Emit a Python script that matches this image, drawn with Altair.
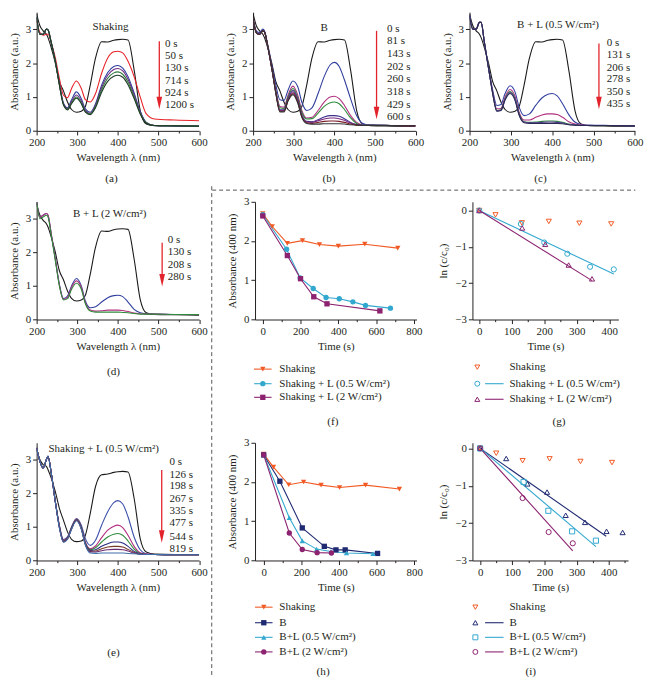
import altair as alt
import pandas as pd

S = 0.985
FONT = "Liberation Serif"
INK = "#231f20"
RED = "#e3232b"
ORANGE = "#f15a24"
CYAN = "#33a8cf"
PURPLE = "#8c2270"
NAVY = "#1f2a72"
DASH = "#555555"
FS = 11.3 * S

# ---------------- spectra data (wavelength grid + absorbance) ----------------
WL = [200, 208, 216, 224, 228, 236, 246, 256, 266, 276, 286, 298, 310, 320, 332, 345,
      360, 375, 390, 400, 412, 425, 440, 455, 470, 490, 540, 600]

BLACK_0S = [3.45, 3.1, 2.95, 2.85, 2.75, 2.45, 2.0, 1.45, 1.18, 0.85, 0.63, 0.55, 0.58, 0.72,
            1.35, 2.15, 2.63, 2.62, 2.67, 2.69, 2.7, 2.68, 1.8, 0.6, 0.2, 0.15, 0.14, 0.13]

A_50 = [3.25, 2.9, 2.82, 2.85, 2.85, 2.6, 2.15, 1.55, 1.05, 0.98, 1.25, 1.47, 1.25, 0.92,
        0.85, 1.1, 1.7, 2.15, 2.33, 2.35, 2.3, 2.05, 1.6, 1.0, 0.5, 0.35, 0.32, 0.3]
A_130 = [3.35, 2.85, 2.85, 3.0, 2.98, 2.6, 2.05, 1.4, 0.82, 0.68, 0.92, 1.15, 0.95, 0.65,
         0.55, 0.8, 1.35, 1.72, 1.9, 1.93, 1.85, 1.6, 1.12, 0.58, 0.25, 0.16, 0.15, 0.14]
A_714 = [3.35, 2.85, 2.85, 3.0, 2.98, 2.6, 2.05, 1.38, 0.8, 0.66, 0.87, 1.06, 0.88, 0.6,
         0.52, 0.76, 1.28, 1.64, 1.81, 1.84, 1.77, 1.52, 1.06, 0.55, 0.24, 0.16, 0.15, 0.14]
A_924 = [3.35, 2.85, 2.85, 3.0, 2.98, 2.6, 2.05, 1.36, 0.78, 0.64, 0.83, 1.0, 0.83, 0.57,
         0.5, 0.72, 1.21, 1.55, 1.71, 1.74, 1.67, 1.44, 1.0, 0.52, 0.23, 0.16, 0.15, 0.14]
A_1200 = [3.35, 2.85, 2.85, 3.0, 2.98, 2.6, 2.05, 1.35, 0.77, 0.62, 0.8, 0.96, 0.8, 0.55,
          0.48, 0.68, 1.14, 1.46, 1.61, 1.64, 1.58, 1.36, 0.95, 0.5, 0.22, 0.16, 0.15, 0.14]

B_81 = [3.3, 2.95, 2.9, 3.0, 2.95, 2.55, 1.95, 1.35, 0.92, 0.9, 1.2, 1.47, 1.3, 0.85,
        0.6, 0.68, 1.1, 1.6, 1.95, 2.02, 1.9, 1.5, 0.95, 0.45, 0.22, 0.17, 0.16, 0.15]
B_143 = [3.3, 2.9, 2.85, 2.95, 2.92, 2.5, 1.85, 1.2, 0.72, 0.7, 1.05, 1.32, 1.05, 0.6,
         0.38, 0.4, 0.6, 0.85, 1.0, 1.02, 0.95, 0.75, 0.45, 0.25, 0.18, 0.17, 0.16, 0.15]
B_202 = [3.3, 2.9, 2.85, 2.95, 2.92, 2.5, 1.85, 1.18, 0.68, 0.66, 1.0, 1.25, 0.98, 0.55,
         0.35, 0.36, 0.52, 0.72, 0.83, 0.85, 0.8, 0.63, 0.38, 0.22, 0.17, 0.17, 0.16, 0.15]
B_260 = [3.3, 2.9, 2.85, 2.95, 2.92, 2.5, 1.85, 1.15, 0.62, 0.62, 0.95, 1.2, 0.92, 0.48,
         0.28, 0.27, 0.33, 0.41, 0.45, 0.45, 0.43, 0.36, 0.25, 0.19, 0.17, 0.17, 0.16, 0.15]
B_318 = [3.3, 2.9, 2.85, 2.95, 2.92, 2.5, 1.85, 1.13, 0.6, 0.6, 0.92, 1.15, 0.88, 0.45,
         0.26, 0.25, 0.3, 0.35, 0.38, 0.38, 0.36, 0.31, 0.23, 0.18, 0.16, 0.16, 0.16, 0.15]
B_429 = [3.3, 2.9, 2.85, 2.95, 2.92, 2.5, 1.85, 1.12, 0.58, 0.58, 0.9, 1.1, 0.85, 0.42,
         0.24, 0.22, 0.25, 0.28, 0.29, 0.29, 0.28, 0.25, 0.2, 0.17, 0.16, 0.16, 0.16, 0.15]
B_600 = [3.3, 2.9, 2.85, 2.95, 2.92, 2.5, 1.85, 1.1, 0.56, 0.56, 0.88, 1.07, 0.82, 0.4,
         0.22, 0.2, 0.2, 0.21, 0.21, 0.21, 0.21, 0.2, 0.18, 0.17, 0.16, 0.16, 0.16, 0.15]

C_131 = [3.4, 3.0, 3.0, 3.2, 3.2, 2.6, 1.85, 1.2, 0.75, 0.78, 1.1, 1.33, 1.15, 0.7,
         0.45, 0.5, 0.75, 0.97, 1.08, 1.1, 1.03, 0.8, 0.48, 0.26, 0.19, 0.17, 0.16, 0.15]
C_206 = [3.4, 3.0, 3.0, 3.2, 3.2, 2.6, 1.85, 1.15, 0.65, 0.66, 1.0, 1.22, 1.02, 0.55,
         0.32, 0.32, 0.4, 0.47, 0.5, 0.5, 0.48, 0.4, 0.27, 0.2, 0.17, 0.16, 0.16, 0.15]
C_278 = [3.4, 3.0, 3.0, 3.2, 3.2, 2.6, 1.85, 1.12, 0.6, 0.62, 0.95, 1.16, 0.95, 0.5,
         0.27, 0.25, 0.26, 0.28, 0.29, 0.29, 0.28, 0.25, 0.2, 0.17, 0.16, 0.16, 0.16, 0.15]
C_350 = [3.4, 3.0, 3.0, 3.2, 3.2, 2.6, 1.85, 1.11, 0.59, 0.61, 0.93, 1.13, 0.93, 0.48,
         0.26, 0.24, 0.24, 0.25, 0.26, 0.26, 0.25, 0.23, 0.19, 0.17, 0.16, 0.16, 0.16, 0.15]
C_435 = [3.4, 3.0, 3.0, 3.2, 3.2, 2.6, 1.85, 1.1, 0.58, 0.6, 0.91, 1.1, 0.9, 0.46,
         0.24, 0.22, 0.22, 0.22, 0.22, 0.22, 0.22, 0.21, 0.18, 0.17, 0.16, 0.16, 0.16, 0.15]

D_130 = [3.5, 3.05, 3.1, 3.15, 3.1, 2.55, 1.8, 1.05, 0.62, 0.7, 1.0, 1.22, 1.0, 0.55,
         0.35, 0.38, 0.52, 0.65, 0.71, 0.72, 0.68, 0.52, 0.3, 0.2, 0.17, 0.16, 0.15, 0.15]
D_208 = [3.5, 3.05, 3.1, 3.15, 3.1, 2.55, 1.8, 1.02, 0.6, 0.66, 0.95, 1.15, 0.95, 0.5,
         0.28, 0.25, 0.26, 0.28, 0.28, 0.28, 0.27, 0.24, 0.19, 0.17, 0.16, 0.16, 0.15, 0.15]
D_280 = [3.5, 3.0, 3.05, 3.1, 3.05, 2.5, 1.75, 1.0, 0.58, 0.62, 0.9, 1.08, 0.9, 0.47,
         0.25, 0.22, 0.22, 0.22, 0.22, 0.22, 0.21, 0.2, 0.18, 0.16, 0.16, 0.16, 0.15, 0.15]

E_0 = [3.3, 3.0, 2.85, 2.8, 2.7, 2.45, 2.05, 1.55, 1.2, 0.85, 0.63, 0.56, 0.58, 0.75,
       1.4, 2.2, 2.55, 2.57, 2.62, 2.64, 2.65, 2.63, 1.85, 0.65, 0.25, 0.19, 0.18, 0.18]
E_126 = [3.35, 2.95, 2.75, 3.0, 3.1, 2.6, 1.75, 1.05, 0.62, 0.7, 1.0, 1.25, 1.05, 0.65,
         0.45, 0.6, 1.05, 1.45, 1.72, 1.78, 1.68, 1.3, 0.7, 0.32, 0.2, 0.18, 0.17, 0.17]
E_198 = [3.35, 2.95, 2.75, 3.0, 3.1, 2.6, 1.75, 1.03, 0.6, 0.68, 0.98, 1.23, 1.0, 0.55,
         0.35, 0.43, 0.68, 0.9, 1.02, 1.05, 0.98, 0.75, 0.42, 0.23, 0.19, 0.18, 0.17, 0.17]
E_267 = [3.35, 2.95, 2.75, 3.0, 3.1, 2.6, 1.75, 1.02, 0.58, 0.67, 0.97, 1.22, 0.98, 0.52,
         0.32, 0.38, 0.55, 0.7, 0.78, 0.8, 0.75, 0.58, 0.34, 0.21, 0.18, 0.18, 0.17, 0.17]
E_335 = [3.35, 2.95, 2.75, 3.0, 3.1, 2.6, 1.75, 1.0, 0.57, 0.66, 0.96, 1.21, 0.96, 0.5,
         0.3, 0.32, 0.42, 0.5, 0.55, 0.55, 0.52, 0.42, 0.27, 0.2, 0.18, 0.18, 0.17, 0.17]
E_477 = [3.35, 2.95, 2.75, 3.0, 3.1, 2.6, 1.75, 0.99, 0.56, 0.65, 0.95, 1.2, 0.95, 0.48,
         0.27, 0.28, 0.35, 0.4, 0.42, 0.42, 0.4, 0.33, 0.24, 0.19, 0.18, 0.18, 0.17, 0.17]
E_544 = [3.35, 2.95, 2.75, 3.0, 3.1, 2.6, 1.75, 0.98, 0.55, 0.64, 0.94, 1.19, 0.94, 0.47,
         0.25, 0.25, 0.29, 0.32, 0.33, 0.33, 0.32, 0.28, 0.22, 0.19, 0.18, 0.18, 0.17, 0.17]
E_819 = [3.35, 2.95, 2.75, 3.0, 3.1, 2.6, 1.75, 0.97, 0.54, 0.63, 0.93, 1.18, 0.93, 0.46,
         0.22, 0.21, 0.22, 0.22, 0.22, 0.22, 0.22, 0.21, 0.2, 0.19, 0.18, 0.18, 0.17, 0.17]

A_LABELS = ["0 s", "50 s", "130 s", "714 s", "924 s", "1200 s"]
B_LABELS = ["0 s", "81 s", "143 s", "202 s", "260 s", "318 s", "429 s", "600 s"]
C_LABELS = ["0 s", "131 s", "206 s", "278 s", "350 s", "435 s"]
D_LABELS = ["0 s", "130 s", "208 s", "280 s"]
E_LABELS = ["0 s", "126 s", "198 s", "267 s", "335 s", "477 s", "544 s", "819 s"]

# ---------------- kinetics data ----------------
F_T_SHAKE = [0, 50, 130, 210, 300, 400, 540, 715]
F_A_SHAKE = [2.70, 2.37, 1.94, 2.01, 1.91, 1.87, 1.92, 1.82]
F_T_L05 = [0, 126, 198, 267, 335, 405, 477, 544, 676]
F_A_L05 = [2.67, 1.79, 1.06, 0.79, 0.56, 0.53, 0.45, 0.36, 0.29]
F_T_L2 = [0, 130, 200, 270, 340, 620]
F_A_L2 = [2.64, 1.63, 1.04, 0.58, 0.40, 0.22]

G_T_SHAKE = [0, 50, 131, 214, 308, 406]
G_Y_SHAKE = [0.0, -0.12, -0.34, -0.30, -0.35, -0.37]
G_T_L05 = [0, 128, 200, 271, 341, 414]
G_Y_L05 = [0.0, -0.37, -0.88, -1.19, -1.55, -1.62]
G_T_L2 = [0, 132, 203, 275, 347]
G_Y_L2 = [0.0, -0.48, -0.93, -1.50, -1.88]
G_FIT_T_L05 = [0, 414]
G_FIT_Y_L05 = [0.0, -1.75]
G_FIT_T_L2 = [0, 347]
G_FIT_Y_L2 = [0.0, -1.93]

H_T_SHAKE = [0, 52, 133, 212, 305, 403, 541, 721]
H_A_SHAKE = [2.71, 2.38, 1.93, 2.00, 1.92, 1.86, 1.92, 1.82]
H_T_B = [0, 86, 205, 322, 384, 433, 605]
H_A_B = [2.69, 2.02, 0.83, 0.36, 0.27, 0.27, 0.18]
H_T_L05 = [0, 136, 205, 281, 357, 440, 581]
H_A_L05 = [2.69, 1.09, 0.50, 0.29, 0.23, 0.19, 0.17]
H_T_L2 = [0, 136, 205, 284, 360]
H_A_L2 = [2.69, 0.70, 0.28, 0.20, 0.19]

I_T_SHAKE = [0, 50, 132, 216, 312, 410]
I_Y_SHAKE = [0.0, -0.13, -0.33, -0.28, -0.35, -0.38]
I_T_B = [0, 81, 147, 208, 266, 326, 393, 443]
I_Y_B = [0.0, -0.27, -0.95, -1.17, -1.79, -1.98, -2.22, -2.25]
I_T_L05 = [0, 135, 212, 286, 360]
I_Y_L05 = [0.0, -0.90, -1.67, -2.22, -2.47]
I_T_L2 = [0, 132, 213, 288]
I_Y_L2 = [0.0, -1.33, -2.24, -2.54]
I_FIT_T_B = [0, 392]
I_FIT_Y_B = [0.0, -2.35]
I_FIT_T_L05 = [0, 360]
I_FIT_Y_L05 = [0.0, -2.63]
I_FIT_T_L2 = [0, 288]
I_FIT_Y_L2 = [0.0, -2.74]

ONE = pd.DataFrame({"k": [0]})
HEAD = "M-0.45,-1L0.45,-1L0,1Z"


def P(v):
    return round(v * S, 2)


def axis(values, major, title):
    test = "abs(datum.value %% %s) > 1e-6" % major
    return alt.Axis(values=values, title=title, format="d",
                    labelExpr="abs(datum.value %% %s) > 1e-6 ? '' : datum.label" % major,
                    tickSize={"condition": {"test": test, "value": 2.2 * S}, "value": 4.2 * S})


def steps(lo, hi, step):
    out, v = [], lo
    while v <= hi + 1e-9:
        out.append(round(v, 3))
        v += step
    return out


# ---------------- decoration helpers (pixel positions relative to plot) ----------------
def txt(s, x, y, size=11.3, align="center"):
    return alt.Chart(ONE).mark_text(text=s, fontSize=size * S, align=align, baseline="middle",
                                    color=INK, font=FONT).encode(x=alt.value(P(x)), y=alt.value(P(y)))


def hline(x1, x2, y, color, width=1.1, dash=None):
    kw = dict(color=color, strokeWidth=width)
    if dash:
        kw["strokeDash"] = dash
    return alt.Chart(ONE).mark_rule(**kw).encode(x=alt.value(P(x1)), x2=alt.value(P(x2)), y=alt.value(P(y)))


def vline(x, y1, y2, color, width=1.0, dash=None):
    kw = dict(color=color, strokeWidth=width)
    if dash:
        kw["strokeDash"] = dash
    return alt.Chart(ONE).mark_rule(**kw).encode(x=alt.value(P(x)), y=alt.value(P(y1)), y2=alt.value(P(y2)))


def sym(x, y, shape, color, filled, size=30):
    return alt.Chart(ONE).mark_point(shape=shape, filled=filled, color=color, size=size * S * S,
                                     opacity=1, strokeWidth=1).encode(x=alt.value(P(x)), y=alt.value(P(y)))


def legend_through(entries, xl1, xl2, xm, xt, ys):
    out = []
    for (lab, col, shp), y in zip(entries, ys):
        out += [hline(xl1, xl2, y, col), sym(xm, y, shp, col, True), txt(lab, xt, y, align="left")]
    return out


def legend_side(entries, xm, xl1, xl2, xt, ys):
    out = []
    for (lab, col, shp, has_line), y in zip(entries, ys):
        out.append(sym(xm, y, shp, col, False, 26))
        if has_line:
            out.append(hline(xl1, xl2, y, col))
        out.append(txt(lab, xt, y, align="left"))
    return out


# ---------------- panel builders ----------------
def spectra_panel(names, curves, colors, W, H, title, tx, ty, labels, lx, ly, arrow, extra):
    rows = []
    for n, vals in zip(names, curves):
        for w, v in zip(WL, vals):
            rows.append({"wl": w, "A": v, "s": n})
    df = pd.DataFrame(rows)
    xs = alt.Scale(domain=[200, 600], nice=False, zero=False)
    ys = alt.Scale(domain=[0, 3.5], nice=False, zero=False)
    xax = axis(steps(200, 600, 50), 100, "Wavelength λ (nm)")
    yax = axis(steps(0, 3.5, 0.5), 1, "Absorbance (a.u.)")

    def X(f):
        return alt.X(f, type="quantitative", scale=xs, axis=xax)

    def Y(f):
        return alt.Y(f, type="quantitative", scale=ys, axis=yax)

    lines = alt.Chart(df).mark_line(interpolate="monotone", strokeWidth=1.1, clip=True).encode(
        x=X("wl"), y=Y("A"),
        color=alt.Color("s:N", scale=alt.Scale(domain=names, range=colors), legend=None),
    )
    tdf = pd.DataFrame({"x": [tx], "y": [ty], "t": [title]})
    ttl = alt.Chart(tdf).mark_text(fontSize=FS, color=INK, font=FONT).encode(
        x=X("x"), y=Y("y"), text="t:N")
    ldf = pd.DataFrame({"x": [lx] * len(labels), "y": ly, "t": labels})
    labs = alt.Chart(ldf).mark_text(fontSize=FS, color=INK, align="left", font=FONT).encode(
        x=X("x"), y=Y("y"), text="t:N")
    adf = pd.DataFrame({"x": [arrow[0]], "y1": [arrow[1]], "y2": [arrow[2]]})
    shaft = alt.Chart(adf).mark_rule(color=RED, strokeWidth=1.3).encode(
        x=X("x"), y=Y("y1"), y2="y2:Q")
    head = alt.Chart(adf).mark_point(shape=HEAD, filled=True, color=RED, opacity=1, size=165 * S * S).encode(
        x=X("x"), y=Y("y2"))
    return alt.layer(lines, ttl, labs, shaft, head, *extra).properties(width=P(W), height=P(H))


def kinetic_panel(series, fits, filled, connect, xdom, ydom, W, H, xvals, xmajor, yvals, ytitle, extra):
    rows = []
    for name, ts, vs, c, sh in series:
        for t, v in zip(ts, vs):
            rows.append({"t": t, "v": v, "s": name})
    df = pd.DataFrame(rows)
    names = [s[0] for s in series]
    cscale = alt.Scale(domain=names, range=[s[3] for s in series])
    shscale = alt.Scale(domain=names, range=[s[4] for s in series])
    xs = alt.Scale(domain=xdom, nice=False, zero=False)
    ys = alt.Scale(domain=ydom, nice=False, zero=False)
    X = alt.X("t:Q", scale=xs, axis=axis(xvals, xmajor, "Time (s)"))
    Y = alt.Y("v:Q", scale=ys, axis=axis(yvals, 1, ytitle))
    C = alt.Color("s:N", scale=cscale, legend=None)
    layers = []
    if connect:
        layers.append(alt.Chart(df).mark_line(strokeWidth=1.1).encode(x=X, y=Y, color=C))
    if fits:
        frows = []
        for name, ts, vs in fits:
            for t, v in zip(ts, vs):
                frows.append({"t": t, "v": v, "s": name})
        fdf = pd.DataFrame(frows)
        layers.append(alt.Chart(fdf).mark_line(strokeWidth=1.1).encode(x=X, y=Y, color=C))
    pts = alt.Chart(df).mark_point(filled=filled, size=(30 if filled else 28) * S * S, opacity=1,
                                   strokeWidth=1).encode(
        x=X, y=Y, color=C, shape=alt.Shape("s:N", scale=shscale, legend=None))
    layers.append(pts)
    return alt.layer(*layers, *extra).properties(width=P(W), height=P(H))


# ---------------- row 1 ----------------
pa = spectra_panel(A_LABELS, [BLACK_0S, A_50, A_130, A_714, A_924, A_1200],
                   ["#1a1a1a", "#e8232a", "#2e3d9c", "#6b2c83", "#2f7a3b", "#203a26"],
                   167, 122, "Shaking", 382, 3.07, A_LABELS, 516,
                   [2.55, 2.21, 1.84, 1.46, 1.12, 0.75], (502, 2.64, 0.82),
                   [txt("(a)", 77, 172, 11.5)])
pb = spectra_panel(B_LABELS, [BLACK_0S, B_81, B_143, B_202, B_260, B_318, B_429, B_600],
                   ["#1a1a1a", "#2e3d9c", "#b0307f", "#2f8a3b", "#3a2f8a", "#7a2a80", "#7a1f2a", "#333333"],
                   167, 122, "B", 375, 3.04, B_LABELS, 530,
                   [3.01, 2.64, 2.27, 1.89, 1.52, 1.15, 0.75, 0.40], (504, 2.95, 0.53),
                   [txt("(b)", 78, 172, 11.5)])
pc = spectra_panel(C_LABELS, [BLACK_0S, C_131, C_206, C_278, C_350, C_435],
                   ["#1a1a1a", "#3140a0", "#b0307f", "#2f8a3b", "#5a3d9a", "#2a2a55"],
                   170, 122, "B + L (0.5 W/cm²)", 414, 3.13, C_LABELS, 532,
                   [2.58, 2.24, 1.86, 1.52, 1.15, 0.80], (513, 2.58, 0.82),
                   [txt("(c)", 73, 172, 11.5)])

# ---------------- row 2 ----------------
pd_ = spectra_panel(D_LABELS, [BLACK_0S, D_130, D_208, D_280],
                    ["#1a1a1a", "#3140a0", "#b0307f", "#2f8a3b"],
                    167, 121, "B + L (2 W/cm²)", 380, 3.15, D_LABELS, 523,
                    [2.37, 2.0, 1.62, 1.27], (509, 2.28, 1.17),
                    [txt("(d)", 79, 175, 11.5), vline(180, -16, 239, DASH, 1.0, [4, 3])])

pf = kinetic_panel(
    [("Shaking", F_T_SHAKE, F_A_SHAKE, ORANGE, "triangle-down"),
     ("Shaking + L (0.5 W/cm²)", F_T_L05, F_A_L05, CYAN, "circle"),
     ("Shaking + L (2 W/cm²)", F_T_L2, F_A_L2, PURPLE, "square")],
    None, True, True, [-41, 814], [0, 3], 166, 121, steps(0, 800, 100), 200, steps(0, 3, 0.5),
    "Absorbance (400 nm)",
    [hline(-44, 391, -12, DASH, 1.0, [4, 3]), txt("(f)", 80, 226, 11.5)] +
    legend_through([("Shaking", ORANGE, "triangle-down"),
                    ("Shaking + L (0.5 W/cm²)", CYAN, "circle"),
                    ("Shaking + L (2 W/cm²)", PURPLE, "square")],
                   -1, 17, 8, 25, [172, 187, 201]))

pg = kinetic_panel(
    [("Shaking", G_T_SHAKE, G_Y_SHAKE, ORANGE, "triangle-down"),
     ("Shaking + L (0.5 W/cm²)", G_T_L05, G_Y_L05, CYAN, "circle"),
     ("Shaking + L (2 W/cm²)", G_T_L2, G_Y_L2, PURPLE, "triangle-up")],
    [("Shaking + L (0.5 W/cm²)", G_FIT_T_L05, G_FIT_Y_L05),
     ("Shaking + L (2 W/cm²)", G_FIT_T_L2, G_FIT_Y_L2)],
    False, False, [-21, 428], [-3, 0.24], 150, 121, steps(0, 400, 50), 100, steps(-3, 0, 0.5),
    "ln (c/c₀)",
    [txt("(g)", 89, 226, 11.5)] +
    legend_side([("Shaking", ORANGE, "triangle-down", False),
                 ("Shaking + L (0.5 W/cm²)", CYAN, "circle", True),
                 ("Shaking + L (2 W/cm²)", PURPLE, "triangle-up", True)],
                5, 13, 32, 38, [170, 187, 203]))

# ---------------- row 3 ----------------
pe = spectra_panel(E_LABELS, [E_0, E_126, E_198, E_267, E_335, E_477, E_544, E_819],
                   ["#1a1a1a", "#3b4fa8", "#b0307f", "#2f8a3b", "#2a2a80", "#7a3a2a", "#6a2a70", "#3f6fa8"],
                   167, 121, "Shaking + L (0.5 W/cm²)", 365, 3.3, E_LABELS, 527,
                   [2.92, 2.55, 2.2, 1.82, 1.47, 1.1, 0.69, 0.35], (508, 2.69, 0.71),
                   [txt("(e)", 79, 216, 11.5), vline(180, -7, 241, DASH, 1.0, [4, 3])])

ph = kinetic_panel(
    [("Shaking", H_T_SHAKE, H_A_SHAKE, ORANGE, "triangle-down"),
     ("B", H_T_B, H_A_B, NAVY, "square"),
     ("B+L (0.5 W/cm²)", H_T_L05, H_A_L05, CYAN, "triangle-up"),
     ("B+L (2 W/cm²)", H_T_L2, H_A_L2, PURPLE, "circle")],
    None, True, True, [-46, 812], [0, 3], 166, 121, steps(0, 800, 100), 200, steps(0, 3, 0.5),
    "Absorbance (400 nm)",
    [txt("(h)", 70, 236, 11.5)] +
    legend_through([("Shaking", ORANGE, "triangle-down"), ("B", NAVY, "square"),
                    ("B+L (0.5 W/cm²)", CYAN, "triangle-up"), ("B+L (2 W/cm²)", PURPLE, "circle")],
                   0, 18, 9, 25, [169, 185, 200, 215]))

pi = kinetic_panel(
    [("Shaking", I_T_SHAKE, I_Y_SHAKE, ORANGE, "triangle-down"),
     ("B", I_T_B, I_Y_B, NAVY, "triangle-up"),
     ("B+L (0.5 W/cm²)", I_T_L05, I_Y_L05, CYAN, "square"),
     ("B+L (2 W/cm²)", I_T_L2, I_Y_L2, PURPLE, "circle")],
    [("B", I_FIT_T_B, I_FIT_Y_B), ("B+L (0.5 W/cm²)", I_FIT_T_L05, I_FIT_Y_L05),
     ("B+L (2 W/cm²)", I_FIT_T_L2, I_FIT_Y_L2)],
    False, False, [-24, 460], [-3, 0.15], 160, 121, steps(0, 450, 50), 100, steps(-3, 0, 0.5),
    "ln (c/c₀)",
    [txt("(i)", 60, 236, 11.5)] +
    legend_side([("Shaking", ORANGE, "triangle-down", False), ("B", NAVY, "triangle-up", True),
                 ("B+L (0.5 W/cm²)", CYAN, "square", True), ("B+L (2 W/cm²)", PURPLE, "circle", True)],
                3, 13, 32, 38, [169, 185, 200, 215]))

IND = dict(color="independent", shape="independent")
row1 = alt.hconcat(pa, pb, pc, spacing=P(55), bounds="flush").resolve_scale(**IND)
row2 = alt.hconcat(pd_, pf, pg, spacing=P(57), bounds="flush").resolve_scale(**IND)
row3 = alt.hconcat(pe, ph, pi, spacing=P(57), bounds="flush").resolve_scale(**IND)

chart = alt.vconcat(row1, row2, row3, spacing=0, padding=0).resolve_scale(**IND).configure_view(
    stroke=None).configure_axis(
    labelFont=FONT, titleFont=FONT, labelFontSize=11.2 * S, titleFontSize=11.2 * S,
    titleFontWeight=400, labelColor=INK, titleColor=INK, domainColor=INK, tickColor=INK,
    grid=False, labelPadding=2, titlePadding=4, labelFlush=False, labelOverlap=False,
    domainWidth=1, tickWidth=1,
).configure_axisY(titlePadding=6).configure_text(font=FONT)

chart.save("out.html", embed_options={"renderer": "svg", "actions": False})
